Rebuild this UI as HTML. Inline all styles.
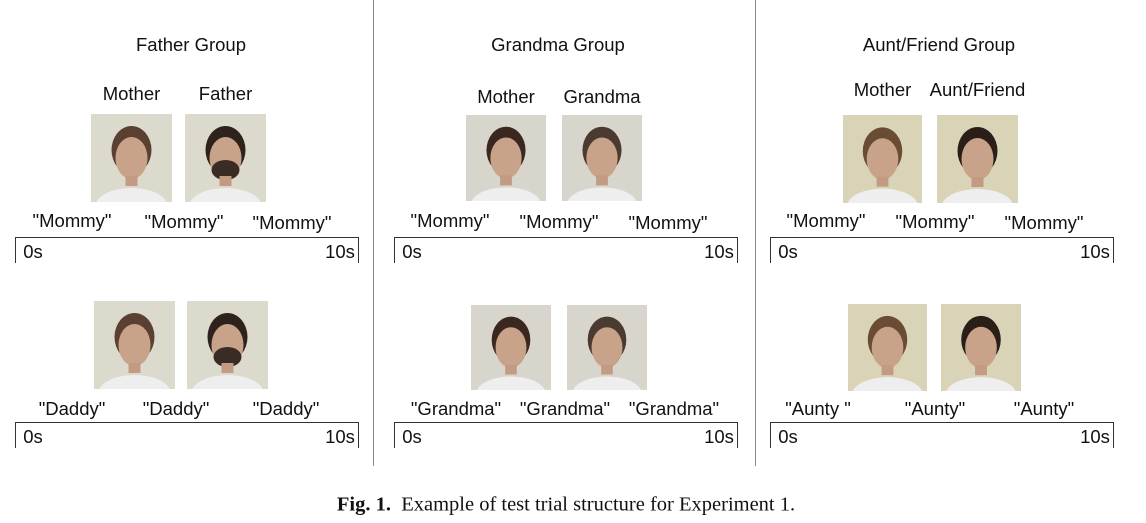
<!DOCTYPE html>
<html><head><meta charset="utf-8"><style>
body{margin:0;width:1146px;height:523px;background:#fff;position:relative;overflow:hidden;font-family:"Liberation Sans",Arial,sans-serif;color:#111}
.t{position:absolute;white-space:nowrap;transform:translate(-50%,-50%);font-size:18.5px}
.vl{position:absolute;top:0;width:1px;height:466px;background:#888}
.tl{position:absolute;height:25px;border-top:1.5px solid #333;border-left:1.5px solid #333;border-right:1.5px solid #333}
.ph{position:absolute;overflow:hidden;background:#dcd9cd}
</style></head><body>
<div class="vl" style="left:373px"></div>
<div class="vl" style="left:755px"></div>
<div id="c"></div>
<div class="t" style="left:566px;top:505px;font-family:'Liberation Serif',serif;font-size:20.5px"><b>Fig. 1.</b>&nbsp; Example of test trial structure for Experiment 1.</div>
<script>
const c=document.getElementById('c');
function txt(x,y,s,name,sz){const d=document.createElement('div');d.className='t';d.style.left=x+'px';d.style.top=y+'px';if(sz)d.style.fontSize=sz+'px';d.textContent=s;


c.appendChild(d);}
function photo(x,y,w,h,hair,beard,name,tint){const d=document.createElement('div');d.className='ph';d.style.cssText=`left:${x}px;top:${y}px;width:${w}px;height:${h}px;background:${tint}`;
d.innerHTML=`<svg width="${w}" height="${h}" viewBox="0 0 80 88"><ellipse cx="40" cy="92" rx="36" ry="18" fill="#eeeeee"/><ellipse cx="40" cy="36" rx="20" ry="24" fill="${hair}"/><ellipse cx="40" cy="44" rx="16" ry="21" fill="#c9a28a"/>${beard?'<ellipse cx="40" cy="56" rx="14" ry="10" fill="#3a2c24"/>':''}<rect x="34" y="62" width="12" height="10" fill="#c39a82"/></svg>`;


c.appendChild(d);}
function tline(x,y,name){const d=document.createElement('div');d.className='tl';d.style.left=x+'px';d.style.top=y+'px';d.style.width='342px';


c.appendChild(d);txt(x+18,y+15,'0s',name+'-start');txt(x+325,y+15,'10s',name+'-end');}
const panels=[
 {cx:191,title:'Father Group',lab:['Mother','Father'],labY:94,tl:15,
  top:[[91,114,81,88,'#5a4030',0],[185,114,81,88,'#2e221c',1]],bot:[[94,301,81,88,'#5a4030',0],[187,301,81,88,'#2e221c',1]],
  q1:[[72,221,'"Mommy"'],[184,222,'"Mommy"'],[292,223,'"Mommy"']],q2:[[72,409,'"Daddy"'],[176,409,'"Daddy"'],[286,409,'"Daddy"']],tint:'#dcd9cd'},
 {cx:558,title:'Grandma Group',lab:['Mother','Grandma'],labY:97,tl:394,
  top:[[466,115,80,86,'#3a2820',0],[562,115,80,86,'#4a3a30',0]],bot:[[471,305,80,85,'#3a2820',0],[567,305,80,85,'#4a3a30',0]],
  q1:[[450,221,'"Mommy"'],[559,222,'"Mommy"'],[668,223,'"Mommy"']],q2:[[456,409,'"Grandma"'],[565,409,'"Grandma"'],[674,409,'"Grandma"']],tint:'#d8d6cc'},
 {cx:939,title:'Aunt/Friend Group',lab:['Mother','Aunt/Friend'],labY:90,tl:770,
  top:[[843,115,79,88,'#6a4c34',0],[937,115,81,88,'#2a1e18',0]],bot:[[848,304,79,87,'#6a4c34',0],[941,304,80,87,'#2a1e18',0]],
  q1:[[826,221,'"Mommy"'],[935,222,'"Mommy"'],[1044,223,'"Mommy"']],q2:[[818,409,'"Aunty "'],[935,409,'"Aunty"'],[1044,409,'"Aunty"']],tint:'#d9d3b8'}
];
panels.forEach((p,i)=>{
 txt(p.cx,45,p.title,'group-title-'+(i+1));
 p.top.forEach((f,j)=>{txt(f[0]+f[2]/2,p.labY,p.lab[j],'face-label-'+(i+1)+'-'+(j+1));photo(f[0],f[1],f[2],f[3],f[4],f[5],'photo-top-'+(i+1)+'-'+(j+1),p.tint);});
 p.bot.forEach((f,j)=>photo(f[0],f[1],f[2],f[3],f[4],f[5],'photo-bottom-'+(i+1)+'-'+(j+1),p.tint));
 p.q1.forEach((q,j)=>txt(q[0],q[1],q[2],'word-top-'+(i+1)+'-'+(j+1)));
 p.q2.forEach((q,j)=>txt(q[0],q[1],q[2],'word-bottom-'+(i+1)+'-'+(j+1)));
 tline(p.tl,237,'timeline-top-'+(i+1));tline(p.tl,422,'timeline-bottom-'+(i+1));
});
</script>
</body></html>
